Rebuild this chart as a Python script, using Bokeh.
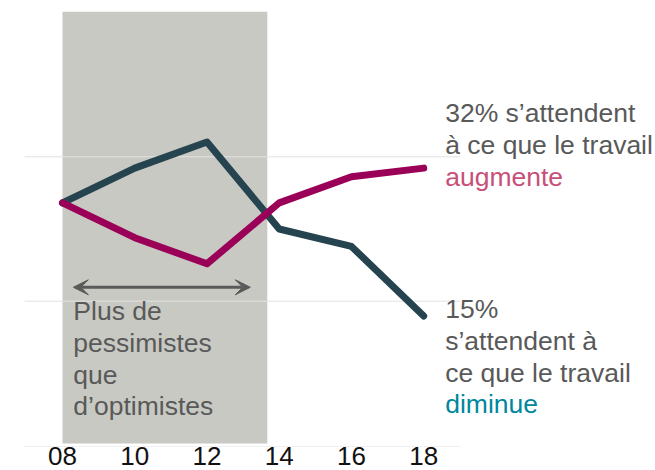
from bokeh.plotting import figure
from bokeh.models import Label, Arrow, VeeHead, FixedTicker, Range1d
from bokeh.embed import file_html
from bokeh.resources import INLINE

# ---- data ----
years = [2008, 2010, 2012, 2014, 2016, 2018]
tick_labels = ["08", "10", "12", "14", "16", "18"]
diminue = [28, 32, 35, 25, 23, 15]      # % expecting work to decrease
augmente = [28, 24, 21, 28, 31, 32]     # % expecting work to increase
shade_years = [2008, 2013.67]           # period with more pessimists
grid_values = [16.7, 33.3]
baseline_value = [0]

FONT = "Liberation Sans"
GRAY_TXT = "#595959"
DARK = "#264450"
MAGENTA = "#9b0059"

X_LO, X_HI = 2006.948, 2024.39     # frame extent (room for labels on the right)
RULE_END = 2019.02                 # gridlines stop here
TXT_SHIFT = 1.1                    # vertical nudge of annotation texts

p = figure(width=654, height=470,
           x_range=Range1d(X_LO, X_HI), y_range=Range1d(0, 50),
           output_backend="svg", toolbar_location=None,
           min_border_left=24, min_border_right=0,
           min_border_top=11, min_border_bottom=24)
p.outline_line_color = None
p.background_fill_color = "white"
p.border_fill_color = "white"
p.yaxis.visible = False
p.xgrid.visible = False
p.ygrid.visible = False

ax = p.xaxis[0]
ax.ticker = FixedTicker(ticks=years)
ax.major_label_overrides = {y: t for y, t in zip(years, tick_labels)}
ax.axis_line_color = None
ax.major_tick_line_color = None
ax.minor_tick_line_color = None
ax.major_tick_out = 0
ax.major_tick_in = 0
ax.major_label_standoff = 0
ax.major_label_text_font = FONT
ax.major_label_text_font_size = "26px"
ax.major_label_text_color = "#111111"

# shaded period
p.quad(left=[shade_years[0]], right=[shade_years[1]], bottom=[0.35], top=[50],
       fill_color="#c8c9c3", line_color=None)

# gridlines (above the shading) and baseline
rules = grid_values + baseline_value
p.segment(x0=[X_LO] * len(rules), x1=[RULE_END] * len(rules),
          y0=rules, y1=rules, line_color="#e2e2e2", line_width=1)

# lines
p.line(years, diminue, line_color=DARK, line_width=7,
       line_join="round", line_cap="round")
p.line(years, augmente, line_color=MAGENTA, line_width=7,
       line_join="round", line_cap="round")

# double arrow
head_kw = dict(size=15, fill_color="#5a5a5a", line_color="#5a5a5a", line_width=1)
p.add_layout(Arrow(start=VeeHead(**head_kw), end=VeeHead(**head_kw),
                   x_start=2008.3, y_start=18.3, x_end=2013.2, y_end=18.3,
                   line_color="#5a5a5a", line_width=3))

def lab(x, y, text, color=GRAY_TXT):
    p.add_layout(Label(x=x, y=y + TXT_SHIFT, text=text, text_font=FONT,
                       text_font_size="26.5px", text_color=color,
                       text_align="left", text_baseline="alphabetic"))

# left annotation
for y, t in zip([14.48, 10.80, 7.16, 3.53],
                ["Plus de", "pessimistes", "que", "d\u2019optimistes"]):
    lab(2008.3, y, t)

# right labels
xr = 2018.595
lab(xr, 37.28, "32% s\u2019attendent")
lab(xr, 33.60, "\u00e0 ce que le travail")
lab(xr, 29.92, "augmente", "#c75078")

lab(xr, 14.68, "15%")
lab(xr, 11.03, "s\u2019attendent \u00e0")
lab(xr, 7.39, "ce que le travail")
lab(xr, 3.76, "diminue", "#0087a0")

open("out.html", "w").write(file_html(p, INLINE))
